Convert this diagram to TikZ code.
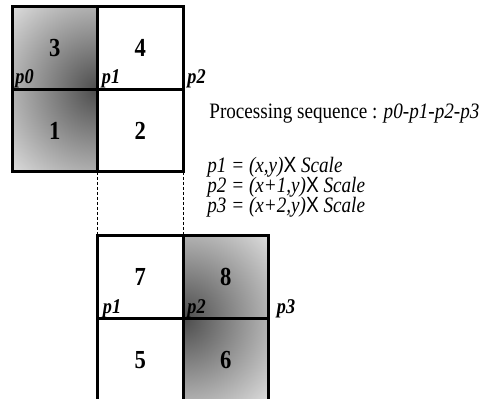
\documentclass[tikz,border=0pt]{standalone}
\usepackage{fontspec}
\setmainfont{Liberation Serif}[FakeStretch=0.87]
\setsansfont{Liberation Sans}[FakeStretch=0.87]
\usetikzlibrary{positioning}

\begin{document}
\begin{tikzpicture}[
    x=0.5pt, y=0.5pt,
    cell/.style={rectangle, draw, line width=1.5pt, minimum width=42.75pt, minimum height=41.25pt, inner sep=0pt, outer sep=0pt, font=\fontsize{13}{14}\selectfont\bfseries},
    shadedcell/.style={path picture={\shade[inner color=black!70, outer color=black!6] (path picture bounding box.#1) circle (135);}},
    lbl/.style={font=\fontsize{10.5}{12}\selectfont\bfseries\itshape, inner sep=0pt, anchor=base west},
    txt/.style={font=\fontsize{11}{12}\selectfont, inner sep=0pt, anchor=base west},
    link/.style={dash pattern=on 1.5pt off 1pt, line width=0.4pt}
]
    \useasboundingbox (0,0) rectangle (482,399);
    \clip (0,0) rectangle (482,399);

    % first block
    \node[cell, shadedcell=south east] (c3) at (54.75,350.75) {3};
    \node[cell] (c4) at (140.25,350.75) {4};
    \node[cell, shadedcell=north east] (c1) at (54.75,268.25) {1};
    \node[cell] (c2) at (140.25,268.25) {2};

    % second block, one cell to the right
    \node[cell] (c7) at (140.25,121.75) {7};
    \node[cell, shadedcell=south west] (c8) at (225.75,121.75) {8};
    \node[cell] (c5) at (140.25,39.25) {5};
    \node[cell, shadedcell=north west] (c6) at (225.75,39.25) {6};

    \draw[link] (c1.south east) -- (c7.north west);
    \draw[link] (c2.south east) -- (c7.north east);

    \node[lbl] (lp0) at ([shift={(3,6)}]c3.south west) {p0};
    \node[lbl] (lp1) at ([shift={(4,6)}]c4.south west) {p1};
    \node[lbl] (lp2) at ([shift={(4,6)}]c4.south east) {p2};
    \node[lbl] (mp1) at ([shift={(5,5)}]c7.south west) {p1};
    \node[lbl] (mp2) at ([shift={(4,5)}]c8.south west) {p2};
    \node[lbl] (mp3) at ([shift={(8,5)}]c8.south east) {p3};

    \node[txt] (seq) at (209,280) {Processing sequence : \textit{p0-p1-p2-p3}};
    \node[txt] (f1) at (207,226) {\textit{p1 = (x,y)}\textsf{X} \textit{Scale}};
    \node[txt] (f2) at (207,206) {\textit{p2 = (x+1,y)}\textsf{X} \textit{Scale}};
    \node[txt] (f3) at (207,186) {\textit{p3 = (x+2,y)}\textsf{X} \textit{Scale}};
\end{tikzpicture}
\end{document}
